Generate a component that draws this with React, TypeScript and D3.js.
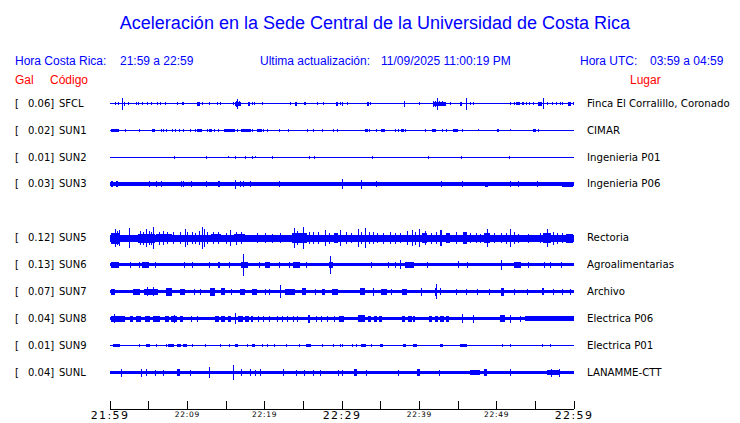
import React from "react";
import * as d3 from "d3";

type Ev = number[];

const TITLE = "Aceleración en la Sede Central de la Universidad de Costa Rica";
const CODES = ["SFCL", "SUN1", "SUN2", "SUN3", "SUN5", "SUN6", "SUN7", "SUN8", "SUN9", "SUNL"];
const GALS = ["0.06", "0.02", "0.01", "0.03", "0.12", "0.13", "0.07", "0.04", "0.01", "0.04"];
const PLACES = ["Finca El Corralillo, Coronado", "CIMAR", "Ingenieria P01", "Ingenieria P06", "Rectoria", "Agroalimentarias", "Archivo", "Electrica P06", "Electrica P01", "LANAMME-CTT"];
const SLOTS = [0, 1, 2, 3, 5, 6, 7, 8, 9, 10];
const BASE = [0.7, 0.7, 0.55, 2.0, 3.5, 1.5, 1.6, 1.7, 0.6, 1.9];

const TICK_MINUTES = d3.range(0, 61, 5);
const TIME_LABELS = ["21:59", "22:09", "22:19", "22:29", "22:39", "22:49", "22:59"];
const BIG_LABELS = ["21:59", "22:29", "22:59"];

// events: [t, amp] single spike, or [t0, t1, amp] burst  (t in minutes from 21:59)
const SFCL: Ev[] = [[0.65,1.5],[1.07,1.5],[1.59,6],[1.75,2.0,2],[2.37,1.5],[3.36,1.5],[3.66,1.5],[4.18,1.5],[4.75,1.5],[5.26,1.5],[6.12,1.5],[6.47,1.5],[7.11,1.5],[8.7,1.5],[9.27,1.5],[9.48,1.5],[11.3,11.6,2],[11.86,1.5],[12.84,1.5],[13.8,1.5],[14.22,1.5],[15.94,1.5],[16.1,17.0,2],[16.46,5],[16.3,3],[16.7,2.5],[17.8,18.1,2],[18.32,1.5],[18.62,1.5],[19.62,1.5],[23.28,1.5],[23.9,24.2,2],[25.09,1.5],[25.22,1.5],[26.81,1.5],[27.58,1.5],[29.2,29.5,2],[29.74,1.5],[30.04,2],[30.7,1.2],[33.2,33.5,2],[33.62,1.5],[38.06,3],[40.0,1.5],[41.8,43.5,2],[41.81,3],[42.03,3],[42.33,6],[42.58,2.5],[42.89,2.5],[43.97,1.5],[45.2,45.5,2],[46.04,6],[46.55,1.5],[46.98,1.5],[51.73,1.5],[52.24,1.5],[52.5,53.0,1.8],[53.24,1.5],[53.45,1.5],[53.79,1.5],[54.22,1.5],[54.74,1.5],[55.4,55.8,2],[56.03,5.5],[56.55,1.5],[57.2,1.5],[57.68,1.5],[58.19,1.5],[58.41,1.5],[59.2,59.6,2],[59.91,1.5]];
const SUN1: Ev[] = [[0.1,1.2,1.8],[1.9,1.8],[3.7,1.3],[5.4,5.8,1.8],[6.6,1.8],[6.9,1.8],[7.2,1.3],[8.0,1.8],[8.4,1.3],[8.9,1.3],[9.5,1.3],[10.3,10.5,1.8],[11.0,1.3],[11.3,11.9,1.8],[12.5,1.8],[12.8,13.2,1.8],[13.5,1.8],[14.0,1.8],[14.8,16.1,1.8],[16.4,1.8],[17.0,18.2,1.8],[18.4,1.8],[19.0,19.6,1.8],[19.8,1.3],[20.3,1.3],[21.8,1.3],[23.0,1.3],[25.5,1.3],[26.3,1.3],[27.4,1.3],[28.9,1.3],[29.3,1.3],[33.0,33.3,1.8],[33.5,1.3],[34.4,1.3],[35.0,35.6,1.8],[36.9,1.3],[37.3,1.3],[37.6,38.0,1.8],[38.1,1.8],[40.7,1.3],[41.6,42.2,1.8],[42.9,1.8],[43.5,1.3],[44.3,45.0,1.8],[45.5,1.8],[47.6,1],[50.0,1.3],[50.2,1.3],[51.7,1],[54.7,55.1,1.8],[55.3,1.8]];
const SUN2: Ev[] = [[8.3,1.5],[12.4,1.2],[15.3,1],[16.2,1.5],[17.4,17.6,1.8],[18.3,1.5],[18.75,1],[20.9,1.5],[25.7,1.2],[26.4,1.2],[33.9,1.5],[41.1,41.3,1.8],[45.4,1.2],[51.6,1.2]];
const SUN3: Ev[] = [[0.1,0.4,3.2],[0.8,1.0,3.2],[5.0,3.2],[5.9,3.2],[6.6,3],[9.2,3],[9.5,3],[10.5,3],[12.4,3],[14.0,14.2,3.2],[16.1,16.3,4.5],[16.8,3.2],[17.2,3],[18.1,3],[21.8,3],[30.0,5],[32.4,4.5],[34.4,3.2],[42.8,3.2],[45.5,3.2],[48.5,48.9,2.7],[51.7,3.2],[52.8,3],[55.2,3],[58.4,59.9,2.6]];
const SUN5: Ev[] = [[0.1,1.3,5.5],[0.6,9],[0.9,7],[1.2,8],[2.4,2.6,6],[2.5,10],[3.6,5.8,4.5],[3.9,7],[4.3,6.5],[4.6,9],[5.0,7],[5.3,6.5],[5.6,11],[6.0,8.0,4.2],[6.3,6.5],[6.8,7],[7.4,6],[8.2,6],[9.0,6],[9.7,9],[10.0,6.5],[10.6,6],[11.0,5.5],[11.5,7],[11.9,11],[12.2,9],[12.6,6],[13.0,14.4,4.2],[13.3,6],[14.0,6],[15.0,5.5],[15.5,8],[16.0,17.5,4.2],[16.3,6.5],[17.0,6],[19.0,5],[20.1,5],[21.0,4.5],[22.0,5],[23.8,10],[23.5,25.5,4.8],[24.2,7],[25.0,11],[25.7,6],[26.2,6],[26.9,6],[27.8,8],[28.3,5.5],[29.0,29.5,5],[29.7,8],[30.5,6],[31.2,5],[32.1,9],[32.5,6],[33.0,10],[33.5,6],[34.0,6],[34.5,5],[35.3,5.5],[36.2,6],[36.8,5.5],[37.5,5],[38.4,7],[39.0,8],[39.5,6.5],[40.0,9],[40.3,41.0,5],[40.7,7],[41.5,5.5],[42.2,6],[42.7,42.9,8],[43.5,44.0,5],[44.8,6],[45.7,46.1,6],[46.5,5],[47.3,5],[47.8,4.5],[48.7,9],[48.3,49.2,5],[49.6,5],[50.5,5],[51.2,5.5],[51.7,9],[52.2,6],[52.8,4.5],[54.0,4.5],[55.6,5],[56.0,57.0,5],[56.5,9],[57.3,6.5],[57.8,5.5],[58.5,5],[59.0,59.9,4.5]];
const SUN6: Ev[] = [[0.1,1.1,2.7],[2.6,2.7],[3.7,2.7],[4.2,5.0,3],[5.8,2.7],[9.6,2.7],[10.6,2.7],[12.8,2.7],[14.0,14.2,2.7],[15.4,2.7],[17.0,17.9,3.3],[17.2,11],[19.3,2.7],[20.0,20.7,3.3],[21.8,2.7],[23.1,2.7],[23.7,24.6,2.7],[25.4,2.7],[28.3,28.9,3.3],[28.5,9],[33.75,2.7],[36.0,2.7],[36.9,2.7],[37.5,4.5],[38.2,39.3,2.7],[41.0,2.7],[45.0,3.5],[46.1,2.7],[50.6,5],[52.3,53.2,2.7],[54.1,2.7],[56.1,2.7],[56.9,2.7],[58.3,2.7]];
const SUN7: Ev[] = [[0.1,0.6,3],[3.0,3.9,3],[4.4,6.2,3.3],[4.8,4.5],[5.5,4.5],[7.3,8.0,3.8],[9.1,9.7,3],[10.9,3],[11.6,3],[12.9,13.6,3.8],[14.4,14.9,3.4],[15.7,3],[16.8,17.5,3],[18.3,19.0,3],[20.0,3],[20.6,3],[22.0,6.5],[22.6,23.9,3.3],[24.8,25.4,3.4],[26.5,3],[27.4,27.8,3],[28.7,29.5,3],[32.3,33.0,3.4],[34.0,4],[35.1,35.8,3],[36.4,2.7],[37.7,38.4,2.7],[40.2,4],[42.0,4],[42.2,7.5],[42.7,3.5],[44.7,3],[46.0,3],[47.4,2.7],[49.0,3],[50.6,51.0,3.8],[52.2,3],[53.9,3],[55.8,56.1,3.4],[57.3,2.7],[58.4,2.7],[59.5,2.7]];
const SUN8: Ev[] = [[0.1,1.9,3.2],[0.5,4.5],[2.6,3.0,3],[3.4,4.0,3],[4.5,5.2,3],[5.5,6.5,2.8],[7.1,7.6,2.8],[7.9,8.6,2.8],[8.3,4],[9.1,9.5,3],[10.5,3],[11.2,3],[13.6,14.1,2.8],[14.4,14.9,2.8],[15.2,15.7,2.8],[16.1,5.5],[16.6,17.2,3],[17.5,18.0,3],[18.2,18.5,3],[19.2,3],[19.8,3],[20.5,3],[21.6,3],[22.3,3],[22.9,3],[23.6,3],[24.2,3],[25.6,25.9,4.2],[26.6,3],[27.3,3],[28.1,3],[29.0,3],[29.6,30.2,3],[32.1,33.0,3.4],[33.3,33.8,2.8],[34.1,34.5,2.8],[34.8,35.2,2.8],[37.7,38.2,2.8],[38.5,39.0,2.8],[39.2,39.5,2.8],[41.2,41.7,2.8],[42.0,42.4,2.8],[42.7,43.2,2.8],[43.5,43.8,2.8],[45.5,4.5],[47.0,4],[50.4,51.1,3.6],[51.7,4],[53.0,3],[53.7,60,2.4]];
const SUN9: Ev[] = [[0.4,1.3,1.8],[3.7,1.8],[4.7,5.2,1.8],[6.0,1.8],[7.2,1.8],[7.5,8.3,1.8],[8.6,9.2,1.8],[9.4,9.9,1.8],[10.6,1.8],[12.3,1.8],[14.2,1.8],[15.4,1.8],[16.1,16.5,1.8],[17.7,1.8],[18.3,18.75,1.8],[19.6,1.8],[20.3,1.8],[21.2,1.8],[22.8,1.8],[24.4,1.8],[25.4,26.0,1.8],[27.4,1.8],[28.9,1.8],[29.7,1.8],[30.0,1.8],[31.3,1.8],[31.8,1.8],[32.4,33.1,1.8],[33.8,1.8],[34.9,35.3,1.8],[37.9,38.3,1.8],[39.2,39.7,1.8],[42.7,43.0,1.8],[45.3,46.1,1.8],[50.7,1.8],[51.7,1.8],[55.8,1.8],[56.9,1.8]];
const SUNL: Ev[] = [[1.4,4],[4.0,4],[4.6,3.5],[5.8,3],[6.9,3],[8.6,9.1,3.8],[10.3,3],[12.8,5.5],[15.9,7.5],[17.0,3.5],[18.1,3.5],[18.7,3],[19.4,3.5],[22.4,3.5],[24.1,3],[25.1,3],[26.2,3],[27.2,3],[29.5,3],[30.0,3],[31.5,32.0,3.5],[33.1,3],[37.3,3],[39.7,40.1,3.5],[42.5,3],[46.6,47.8,2.7],[48.3,48.7,3.8],[51.7,3.5],[56.5,58.2,2.7],[57.0,4],[58.0,4]];
const EVENTS = [SFCL, SUN1, SUN2, SUN3, SUN5, SUN6, SUN7, SUN8, SUN9, SUNL];

const BLUE = "#0000ff";
const RED = "#ff0000";
const SANS = "'Liberation Sans', Arial, sans-serif";
const DEJA = "'DejaVu Sans', sans-serif";

export default function App() {
  const W = 740, H = 423;
  const x = d3.scaleLinear().domain([0, 60]).range([110, 574]);
  const row = d3.scaleLinear().domain([0, 10]).range([103.5, 372.5]);
  const amp = d3.scaleLinear().domain([0, 10]).range([0, 10]);
  const axisY = 409;

  return (
    <svg width={W} height={H} style={{ position: "absolute", left: 0, top: 0, background: "#fff" }}>
      <text x={375} y={29} textAnchor="middle" fill={BLUE} fontFamily={SANS} fontSize={18}>{TITLE}</text>
      <g fontFamily={SANS} fontSize={12} fill={BLUE}>
        <text x={15} y={65}>Hora Costa Rica:</text>
        <text x={120} y={65}>21:59 a 22:59</text>
        <text x={260} y={65}>Ultima actualización:</text>
        <text x={381} y={65}>11/09/2025 11:00:19 PM</text>
        <text x={580} y={65}>Hora UTC:</text>
        <text x={650} y={65}>03:59 a 04:59</text>
      </g>
      <g fontFamily={SANS} fontSize={12} fill={RED}>
        <text x={15} y={84}>Gal</text>
        <text x={50} y={84}>Código</text>
        <text x={630} y={84}>Lugar</text>
      </g>
      {CODES.map((code, i) => {
        const cy = row(SLOTS[i]);
        const b = amp(BASE[i]);
        return (
          <g key={code}>
            <g fontFamily={DEJA} fontSize={10} fill="#000">
              <text x={15} y={cy + 3.2}>[</text>
              <text x={28} y={cy + 3.2}>{GALS[i]}]</text>
              <text x={59} y={cy + 3.2}>{code}</text>
              <text x={587} y={cy + 3.2} fontSize={10.2}>{PLACES[i]}</text>
            </g>
            <g fill={BLUE} shapeRendering="crispEdges">
              <rect x={x(0)} y={cy - Math.max(b, 0.5)} width={x(60) - x(0)} height={Math.max(2 * b, 1)} />
              {EVENTS[i].map((e, k) => {
                const t0 = e[0];
                const t1 = e.length === 3 ? e[1] : e[0];
                const a = amp(e.length === 3 ? e[2] : e[1]);
                const x0 = x(t0);
                const w = Math.max(x(t1) - x0, 1);
                return <rect key={k} x={x0} y={cy - a} width={w} height={2 * a} />;
              })}
            </g>
          </g>
        );
      })}
      <g stroke="#000" strokeWidth={1} shapeRendering="crispEdges">
        <line x1={x(0)} x2={x(60)} y1={axisY} y2={axisY} />
        {TICK_MINUTES.map((m) => (
          <line key={m} x1={x(m)} x2={x(m)} y1={axisY} y2={axisY - 8} />
        ))}
      </g>
      {TIME_LABELS.map((lab, i) => {
        const big = BIG_LABELS.includes(lab);
        return (
          <text key={lab} x={x(i * 10)} y={big ? 418.5 : 416.5} textAnchor="middle" fontFamily={DEJA}
            fontSize={big ? 11 : 7.5} letterSpacing={big ? 1.4 : 0.7} fill="#000">{lab}</text>
        );
      })}
    </svg>
  );
}
